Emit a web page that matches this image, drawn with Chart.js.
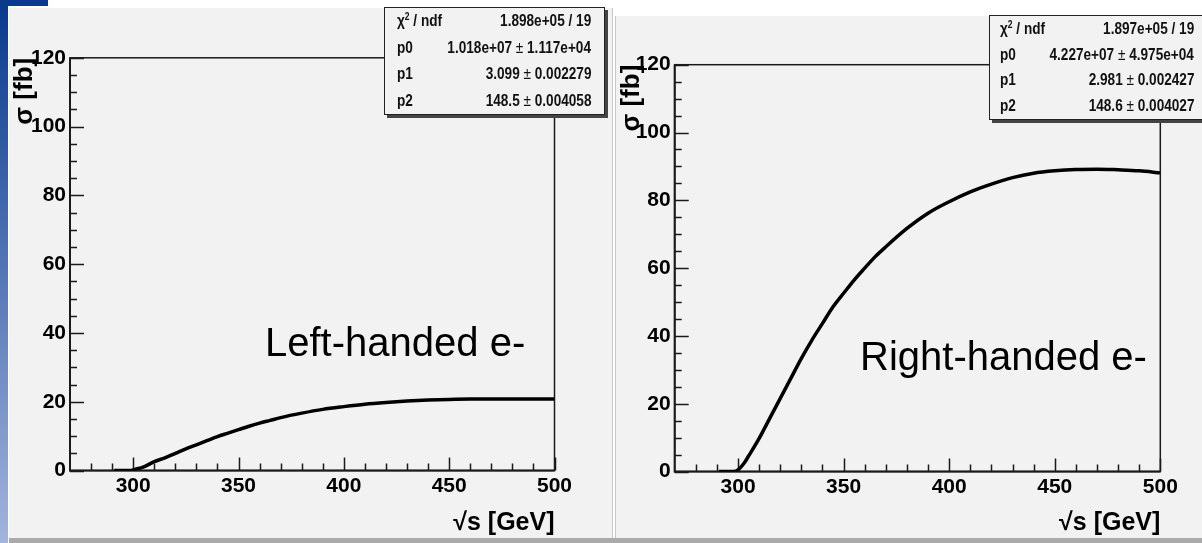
<!DOCTYPE html>
<html>
<head>
<meta charset="utf-8">
<script src="https://cdn.jsdelivr.net/npm/chart.js@4.4.1/dist/chart.umd.min.js"></script>
<style>
body{margin:0;width:1202px;height:543px;background:#fff;position:relative;overflow:hidden;font-family:"Liberation Sans",Arial,sans-serif}
#strip{position:absolute;left:0;top:0;width:8px;height:543px;background:linear-gradient(#08398e,#a2b4dc)}
#block{position:absolute;left:0;top:0;width:48px;height:6px;background:#0a3a8f}
.panel{position:absolute;background:#f2f2f2}
#pL{left:9px;top:8px;width:603px;height:530px;border-right:1px solid #c6c6c6}
#pR{left:615px;top:16px;width:587px;height:522px;border-left:1px solid #c6c6c6}
#bottom{position:absolute;left:9px;top:538px;width:1193px;height:5px;background:#aaa}
.stats{position:absolute;background:#f2f2f2;border:1.5px solid #222;box-shadow:3px 3px 0 #444;display:flex;flex-direction:column;font-weight:bold;font-size:16px;color:#111;box-sizing:border-box}
.stats div{flex:1;display:flex;justify-content:space-between;align-items:center}
.stats .k{display:inline-block;transform:scaleX(.85);transform-origin:left center}
.stats .v{display:inline-block;transform:scaleX(.85);transform-origin:right center;white-space:nowrap}
.stats sup{font-size:10px;vertical-align:6px;line-height:0}
.pm{font-weight:normal}
.note{position:absolute;font-size:40px;line-height:40px;color:#000;white-space:nowrap}
</style>
</head>
<body>
<div id="strip"></div>
<div id="block"></div>
<div class="panel" id="pL"><canvas id="cL"></canvas></div>
<div class="panel" id="pR"><canvas id="cR"></canvas></div>
<div id="bottom"></div>

<div class="stats" id="sL" style="left:384px;top:7px;width:221px;height:108px;padding:0 13px 0 12px"></div>
<div class="stats" id="sR" style="left:989px;top:15px;width:232px;height:105px;padding:0 26px 0 10px"></div>

<div class="note" style="left:265px;top:322px">Left-handed e-</div>
<div class="note" style="left:860px;top:336px">Right-handed e-</div>

<script>
// axes
const xMin = 270, xMax = 500, yMin = 0, yMax = 120;
const xMajor = [300, 350, 400, 450, 500];
const yMajor = [0, 20, 40, 60, 80, 100, 120];
const xMinorStep = 10, yMinorStep = 5;

// left-handed e-
const sqrtSLeft = [291, 299, 300, 305, 310, 315, 320, 325, 330, 335, 340, 345, 350, 355, 360, 365, 370, 380, 390, 400, 410, 420, 430, 440, 450, 460, 470, 480, 490, 500];
const sigmaLeft = [0, 0, 0.2, 1.1, 2.6, 3.7, 5.0, 6.3, 7.5, 8.7, 9.9, 10.9, 11.9, 12.9, 13.8, 14.6, 15.4, 16.7, 17.8, 18.6, 19.3, 19.8, 20.2, 20.5, 20.7, 20.8, 20.8, 20.8, 20.8, 20.8];

// right-handed e-
const sqrtSRight = [291, 298, 300, 303, 305, 310, 315, 320, 325, 330, 335, 340, 345, 350, 355, 360, 365, 370, 380, 390, 400, 410, 420, 430, 440, 450, 460, 470, 480, 490, 500];
const sigmaRight = [0, 0, 0.5, 2.6, 4.6, 9.8, 15.7, 21.6, 27.5, 33.4, 38.8, 43.7, 48.6, 52.6, 56.5, 60.0, 63.4, 66.3, 71.7, 76.2, 79.6, 82.5, 84.8, 86.7, 88.0, 88.7, 89.1, 89.2, 89.0, 88.7, 88.1];

// fit boxes
const statNames = ['χ<sup>2</sup> / ndf', 'p0', 'p1', 'p2'];
const statsLeft = ['1.898e+05 / 19', '1.018e+07 ± 1.117e+04', '3.099 ± 0.002279', '148.5 ± 0.004058'];
const statsRight = ['1.897e+05 / 19', '4.227e+07 ± 4.975e+04', '2.981 ± 0.002427', '148.6 ± 0.004027'];

function fillStats(id, vals){
  const box = document.getElementById(id);
  statNames.forEach((n,i)=>{
    const row = document.createElement('div');
    row.innerHTML = `<span class="k">${n}</span><span class="v">${vals[i].replace('±','<span class="pm">±</span>')}</span>`;
    box.appendChild(row);
  });
}
fillStats('sL', statsLeft);
fillStats('sR', statsRight);

const family = '"Liberation Sans", Arial, sans-serif';

// ROOT-style frame with inward ticks
const rootFrame = {
  id: 'rootFrame',
  beforeDatasetsDraw(chart){
    const {ctx, chartArea: a, scales: {x, y}} = chart;
    ctx.save();
    ctx.strokeStyle = '#1a1a1a';
    ctx.lineWidth = 1.5;
    ctx.strokeRect(a.left, a.top, a.right - a.left, a.bottom - a.top);
    ctx.lineWidth = 2;
    ctx.beginPath();
    ctx.moveTo(a.left, a.top); ctx.lineTo(a.left, a.bottom); ctx.lineTo(a.right, a.bottom);
    ctx.stroke();
    ctx.lineWidth = 1.5;
    ctx.beginPath();
    for (let v = xMin + xMinorStep; v <= xMax; v += xMinorStep) {
      const px = Math.round(x.getPixelForValue(v)) + 0.5;
      const len = xMajor.includes(v) ? 13 : 7;
      ctx.moveTo(px, a.bottom); ctx.lineTo(px, a.bottom - len);
    }
    for (let v = yMin; v <= yMax; v += yMinorStep) {
      const py = Math.round(y.getPixelForValue(v)) + 0.5;
      const len = yMajor.includes(v) ? 14 : 7;
      ctx.moveTo(a.left, py); ctx.lineTo(a.left + len, py);
    }
    ctx.stroke();
    ctx.restore();
  }
};

function makeChart(id, xs, ys, area){
  new Chart(document.getElementById(id), {
    type: 'line',
    data: {datasets: [{
      data: xs.map((v,i)=>({x:v, y:ys[i]})),
      borderColor: '#000', borderWidth: 3.5, pointRadius: 0,
      cubicInterpolationMode: 'monotone', fill: false
    }]},
    options: {
      responsive: true, maintainAspectRatio: false, animation: false,
      layout: {padding: {top: area.top, right: area.right, left: 0, bottom: 0}},
      plugins: {legend: {display: false}, tooltip: {enabled: false}},
      scales: {
        x: {
          type: 'linear', min: xMin, max: xMax,
          afterBuildTicks: s => { s.ticks = xMajor.map(v=>({value:v})); },
          afterFit: s => { s.height = area.bottom; },
          grid: {display: false, drawTicks: false}, border: {display: false},
          ticks: {padding: 3, autoSkip: false, maxRotation: 0, color: '#000', font: {family, size: 21, weight: 'bold'}},
          title: {display: true, text: '√s [GeV]', align: 'end', color: '#000', padding: 0, font: {family, size: 25, weight: 'bold'}}
        },
        y: {
          min: yMin, max: yMax,
          afterBuildTicks: s => { s.ticks = yMajor.map(v=>({value:v})); },
          afterFit: s => { s.width = area.left; },
          grid: {display: false, drawTicks: false}, border: {display: false},
          ticks: {padding: 4, color: '#000', font: {family, size: 21, weight: 'bold'}},
          title: {display: true, text: 'σ [fb]', align: 'end', color: '#000', padding: 0, font: {family, size: 26, weight: 'bold'}}
        }
      }
    },
    plugins: [rootFrame]
  });
}

makeChart('cL', sqrtSLeft, sigmaLeft, {left: 61, top: 49.8, right: 57.5, bottom: 67.4});
makeChart('cR', sqrtSRight, sigmaRight, {left: 58.7, top: 48.7, right: 42.7, bottom: 66.4});
</script>
</body>
</html>
